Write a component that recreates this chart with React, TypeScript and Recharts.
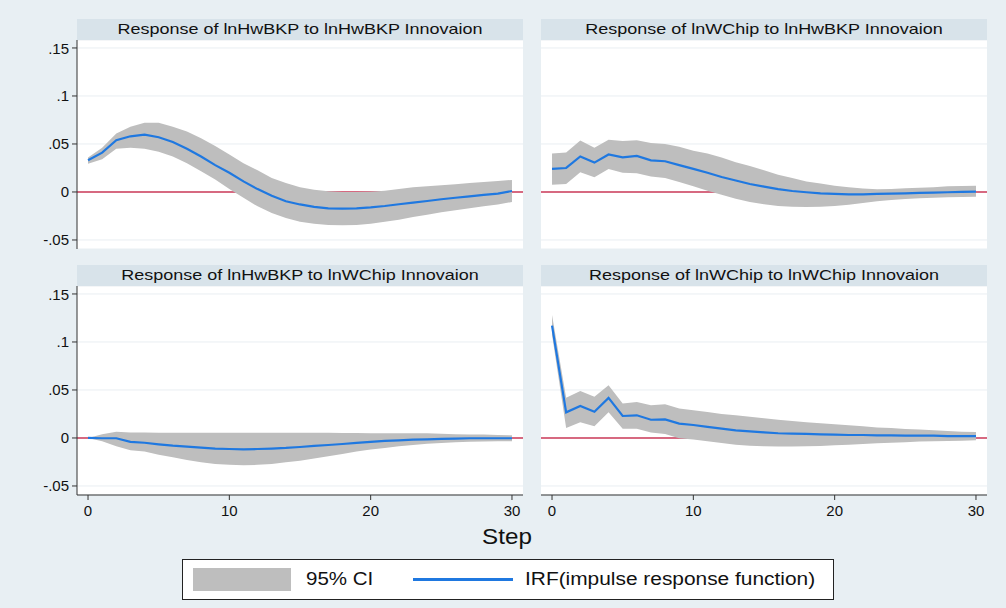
import React from 'react';
import { ComposedChart, Area, Line, XAxis, YAxis, CartesianGrid } from 'recharts';

const steps = [0, 1, 2, 3, 4, 5, 6, 7, 8, 9, 10, 11, 12, 13, 14, 15, 16, 17, 18, 19, 20, 21, 22, 23, 24, 25, 26, 27, 28, 29, 30];
const yTicks = [-0.05, 0, 0.05, 0.1, 0.15];
const xTicks = [0, 10, 20, 30];

// lnHwBKP -> lnHwBKP
const hwHwIrf = [0.033, 0.041, 0.054, 0.058, 0.0597, 0.057, 0.052, 0.045, 0.037, 0.028, 0.02, 0.011, 0.003, -0.004, -0.0097, -0.013, -0.0156, -0.017, -0.0174, -0.017, -0.016, -0.0146, -0.0128, -0.011, -0.0094, -0.0076, -0.006, -0.0045, -0.003, -0.0017, 0.001];
const hwHwLo = [0.0295, 0.034, 0.045, 0.046, 0.045, 0.042, 0.037, 0.03, 0.0215, 0.013, 0.003, -0.006, -0.015, -0.022, -0.027, -0.031, -0.033, -0.0344, -0.0347, -0.0344, -0.033, -0.031, -0.029, -0.026, -0.0236, -0.021, -0.019, -0.017, -0.015, -0.013, -0.0104];
const hwHwHi = [0.036, 0.046, 0.061, 0.068, 0.072, 0.072, 0.068, 0.063, 0.056, 0.048, 0.039, 0.03, 0.0226, 0.0146, 0.0094, 0.005, 0.0024, 0.0007, 0, 0, 0.0003, 0.0014, 0.003, 0.005, 0.006, 0.007, 0.008, 0.0094, 0.0104, 0.0115, 0.0125];

// lnWChip -> lnHwBKP
const chHwIrf = [0.024, 0.025, 0.037, 0.0306, 0.039, 0.036, 0.0375, 0.033, 0.032, 0.028, 0.024, 0.02, 0.0156, 0.012, 0.0083, 0.0056, 0.003, 0.001, -0.0003, -0.0014, -0.002, -0.0024, -0.0024, -0.002, -0.0017, -0.0014, -0.001, -0.0007, -0.0003, 0, 0.0003];
const chHwLo = [0.0076, 0.0083, 0.0205, 0.0153, 0.024, 0.02, 0.0194, 0.016, 0.0146, 0.0104, 0.006, 0.0014, -0.0028, -0.007, -0.0104, -0.0128, -0.0146, -0.0153, -0.0156, -0.0153, -0.0146, -0.0132, -0.0115, -0.0097, -0.0083, -0.0073, -0.0066, -0.006, -0.0056, -0.0052, -0.0049];
const chHwHi = [0.04, 0.041, 0.0535, 0.046, 0.0545, 0.053, 0.054, 0.051, 0.05, 0.047, 0.043, 0.04, 0.036, 0.031, 0.027, 0.0226, 0.018, 0.0146, 0.011, 0.0087, 0.0066, 0.0049, 0.0035, 0.0028, 0.003, 0.0038, 0.0045, 0.005, 0.006, 0.0063, 0.0066];

// lnHwBKP -> lnWChip
const hwChIrf = [0, -0.0003, -0.0003, -0.004, -0.005, -0.0066, -0.008, -0.009, -0.01, -0.011, -0.0115, -0.0118, -0.0115, -0.011, -0.0104, -0.0094, -0.0083, -0.0073, -0.0063, -0.0052, -0.004, -0.0031, -0.0024, -0.0017, -0.0014, -0.001, -0.0007, -0.0003, -0.0003, -0.0003, -0.0003];
const hwChLo = [0, -0.0035, -0.0087, -0.0128, -0.014, -0.0174, -0.02, -0.023, -0.0253, -0.027, -0.028, -0.0285, -0.028, -0.027, -0.0253, -0.0236, -0.0215, -0.019, -0.0167, -0.0142, -0.012, -0.0104, -0.0087, -0.0073, -0.006, -0.0052, -0.0045, -0.004, -0.0038, -0.0035, -0.0035];
const hwChHi = [0, 0.004, 0.0066, 0.0056, 0.0056, 0.0055, 0.0055, 0.0055, 0.0055, 0.0055, 0.0055, 0.0055, 0.0055, 0.0055, 0.0055, 0.0055, 0.0055, 0.0055, 0.0053, 0.0051, 0.005, 0.005, 0.005, 0.0049, 0.0049, 0.0044, 0.0038, 0.0036, 0.0035, 0.0031, 0.0028];

// lnWChip -> lnWChip
const chChIrf = [0.117, 0.0267, 0.0333, 0.0274, 0.0417, 0.0229, 0.0236, 0.019, 0.0194, 0.0149, 0.0135, 0.0115, 0.0097, 0.008, 0.0069, 0.0059, 0.0049, 0.0045, 0.0042, 0.0038, 0.0035, 0.0031, 0.0031, 0.0028, 0.0028, 0.0024, 0.0024, 0.0024, 0.002, 0.002, 0.002];
const chChLo = [0.1076, 0.0104, 0.0163, 0.0122, 0.0267, 0.0097, 0.0097, 0.0056, 0.0042, -0.0003, -0.0017, -0.0035, -0.0052, -0.007, -0.008, -0.0087, -0.009, -0.009, -0.0087, -0.0083, -0.0076, -0.007, -0.0063, -0.0056, -0.0049, -0.0045, -0.0038, -0.0035, -0.0031, -0.0028, -0.0024];
const chChHi = [0.128, 0.042, 0.049, 0.043, 0.055, 0.036, 0.0375, 0.034, 0.035, 0.0306, 0.029, 0.027, 0.025, 0.0236, 0.022, 0.0205, 0.019, 0.0177, 0.0163, 0.0153, 0.0142, 0.0132, 0.0122, 0.011, 0.0104, 0.0094, 0.0087, 0.008, 0.0073, 0.0066, 0.0063];

const FONT = 'Arial, "Liberation Sans", Helvetica, sans-serif';
const BG = '#e8eff3';
const STRIP = '#d8e3ea';
const BAND = '#bebebe';
const BLUE = '#1f78e0';
const RED = '#cc3a58';

const fmtY = (v: number) => {
  if (v === 0) return '0';
  return String(v).replace('0.', '.');
};

function build(irf: number[], lo: number[], hi: number[]) {
  return steps.map((s, i) => ({ step: s, irf: irf[i], ci: [lo[i], hi[i]] }));
}

interface PanelProps {
  title: string;
  irf: number[];
  lo: number[];
  hi: number[];
  left: number;
  top: number;
  showY: boolean;
  showX: boolean;
}

function Panel({ title, irf, lo, hi, left, top, showY, showX }: PanelProps) {
  const axisW = showY ? 77 : 0;
  const plotW = 446;
  const plotH = 209;
  const width = axisW + plotW;
  const height = plotH + (showX ? 30 : 0);
  const data = build(irf, lo, hi);
  return (
    <>
      <div
        style={{
          position: 'absolute', left: left + axisW, top: top - 21, width: plotW, height: 21,
          background: STRIP, color: '#111', overflow: 'hidden',
        }}
      >
        <div style={{ fontSize: 14.5, lineHeight: '21px', textAlign: 'center', transform: 'scaleX(1.24)', whiteSpace: 'nowrap' }}>
          {title}
        </div>
      </div>
      <div style={{ position: 'absolute', left, top }}>
        <ComposedChart width={width} height={height} data={data} margin={{ top: 0, right: 0, bottom: 0, left: 0 }}>
          <CartesianGrid vertical={false} fill="#ffffff" stroke="#e9eef2" strokeWidth={1} />
          <CartesianGrid vertical={false} horizontalValues={[0]} stroke={RED} strokeWidth={1.5} fill="none" />
          <XAxis
            dataKey="step" type="number" domain={[-0.78, 30.78]} ticks={xTicks} allowDataOverflow
            hide={!showX} height={30} tickSize={5} tickMargin={5}
            axisLine={{ stroke: '#333' }} tickLine={{ stroke: '#333' }}
            tick={{ fill: '#111', fontSize: 15, fontFamily: FONT }}
          />
          <YAxis
            type="number" domain={[-0.0594, 0.1583]} ticks={yTicks} allowDataOverflow
            hide={!showY} width={77} tickSize={5} tickMargin={3} tickFormatter={fmtY}
            axisLine={{ stroke: '#333' }} tickLine={{ stroke: '#333' }}
            tick={{ fill: '#111', fontSize: 15, fontFamily: FONT }}
          />
          <Area dataKey="ci" type="linear" fill={BAND} fillOpacity={1} stroke="none" isAnimationActive={false} activeDot={false} />
          <Line dataKey="irf" type="linear" stroke={BLUE} strokeWidth={2.2} dot={false} isAnimationActive={false} activeDot={false} />
        </ComposedChart>
      </div>
    </>
  );
}

export default function App() {
  return (
    <div style={{ position: 'relative', width: 1006, height: 608, background: BG, fontFamily: FONT, overflow: 'hidden' }}>
      <style>{'body{margin:0}'}</style>
      <Panel title="Response of lnHwBKP to lnHwBKP Innovaion" irf={hwHwIrf} lo={hwHwLo} hi={hwHwHi} left={0} top={40} showY showX={false} />
      <Panel title="Response of lnWChip to lnHwBKP Innovaion" irf={chHwIrf} lo={chHwLo} hi={chHwHi} left={541} top={40} showY={false} showX={false} />
      <Panel title="Response of lnHwBKP to lnWChip Innovaion" irf={hwChIrf} lo={hwChLo} hi={hwChHi} left={0} top={286} showY showX />
      <Panel title="Response of lnWChip to lnWChip Innovaion" irf={chChIrf} lo={chChLo} hi={chChHi} left={541} top={286} showY={false} showX />
      <div style={{ position: 'absolute', left: 407, top: 524, width: 200, textAlign: 'center', fontSize: 22, color: '#111', transform: 'scaleX(1.1)' }}>Step</div>
      <div
        style={{
          position: 'absolute', left: 182, top: 559, width: 650, height: 39, background: '#fff',
          border: '1px solid #222', fontSize: 18, color: '#111',
        }}
      >
        <div style={{ position: 'absolute', left: 10, top: 8, width: 98, height: 23, background: BAND }} />
        <div style={{ position: 'absolute', left: 123, top: 0, lineHeight: '39px', transform: 'scaleX(1.14)', transformOrigin: 'left center' }}>95% CI</div>
        <div style={{ position: 'absolute', left: 230, top: 18, width: 100, height: 3, background: BLUE }} />
        <div style={{ position: 'absolute', left: 342, top: 0, lineHeight: '39px', transform: 'scaleX(1.16)', transformOrigin: 'left center', whiteSpace: 'nowrap' }}>IRF(impulse response function)</div>
      </div>
    </div>
  );
}
